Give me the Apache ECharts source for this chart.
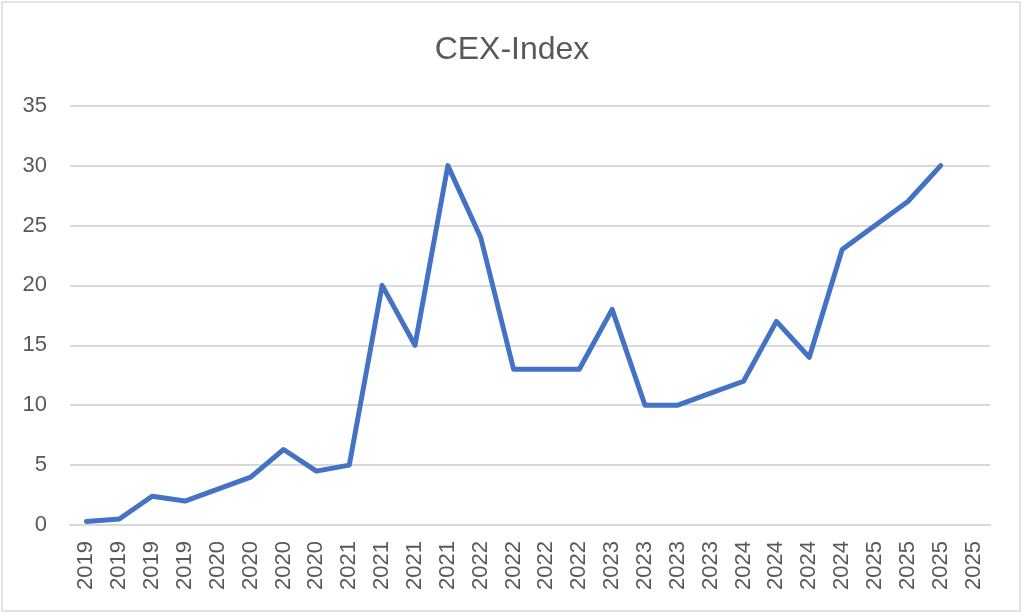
<!DOCTYPE html>
<html>
<head>
<meta charset="utf-8">
<script src="https://cdn.jsdelivr.net/npm/echarts@6/dist/echarts.min.js"></script>
<style>
  html, body { margin: 0; padding: 0; background: #fff; }
  #chart { width: 1024px; height: 616px; }
</style>
</head>
<body>
<div id="chart"></div>
<script>
 // categories (quarters, labelled by year only)
 var years = ['2019', '2019', '2019', '2019', '2020', '2020', '2020', '2020',
     '2021', '2021', '2021', '2021', '2022', '2022', '2022', '2022',
     '2023', '2023', '2023', '2023', '2024', '2024', '2024', '2024',
     '2025', '2025', '2025', '2025'];
 // CEX-Index values (last quarter has no value yet)
 var cexIndex = [0.3, 0.5, 2.4, 2.0, 3.0, 4.0, 6.3, 4.5, 5.0, 20, 15, 30, 24,
     13, 13, 13, 18, 10, 10, 11, 12, 17, 14, 23, 25, 27, 30];
 var yTicks = [0, 5, 10, 15, 20, 25, 30, 35];

 var chart = echarts.init(document.getElementById('chart'));
 var labelFont = 'Liberation Sans, Arial, sans-serif';

 option = {
     backgroundColor: '#ffffff',
     animation: false,
     title: {
         text: 'CEX-Index',
         left: 'center',
         top: 29,
         textStyle: {
             color: '#595959',
             fontFamily: labelFont,
             fontSize: 32,
             fontWeight: 'normal'
         }
     },
     graphic: [{
         type: 'rect',
         shape: { x: 2, y: 2, width: 1018, height: 609 },
         style: { fill: 'none', stroke: '#d9d9d9', lineWidth: 1.5 },
         silent: true
     }],
     grid: {
         left: 70,
         right: 34,
         top: 105.7,
         bottom: 91
     },
     xAxis: {
         type: 'category',
         data: years,
         boundaryGap: true,
         axisLine: { lineStyle: { color: '#d9d9d9', width: 2 } },
         axisTick: { show: false },
         axisLabel: {
             interval: 0,
             rotate: 90,
             margin: 16,
             color: '#595959',
             fontFamily: labelFont,
             fontSize: 22
         }
     },
     yAxis: {
         type: 'value',
         min: yTicks[0],
         max: yTicks[yTicks.length - 1],
         interval: 5,
         axisLine: { show: false },
         axisTick: { show: false },
         axisLabel: {
             margin: 23,
             color: '#595959',
             fontFamily: labelFont,
             fontSize: 22
         },
         splitLine: { lineStyle: { color: '#d9d9d9', width: 2 } }
     },
     series: [{
         name: 'CEX-Index',
         type: 'line',
         data: cexIndex,
         showSymbol: false,
         symbol: 'none',
         lineStyle: {
             color: '#4472c4',
             width: 5,
             cap: 'round',
             join: 'round'
         }
     }]
 };
 chart.setOption(option);
 window.addEventListener('resize', chart.resize);
</script>
</body>
</html>
